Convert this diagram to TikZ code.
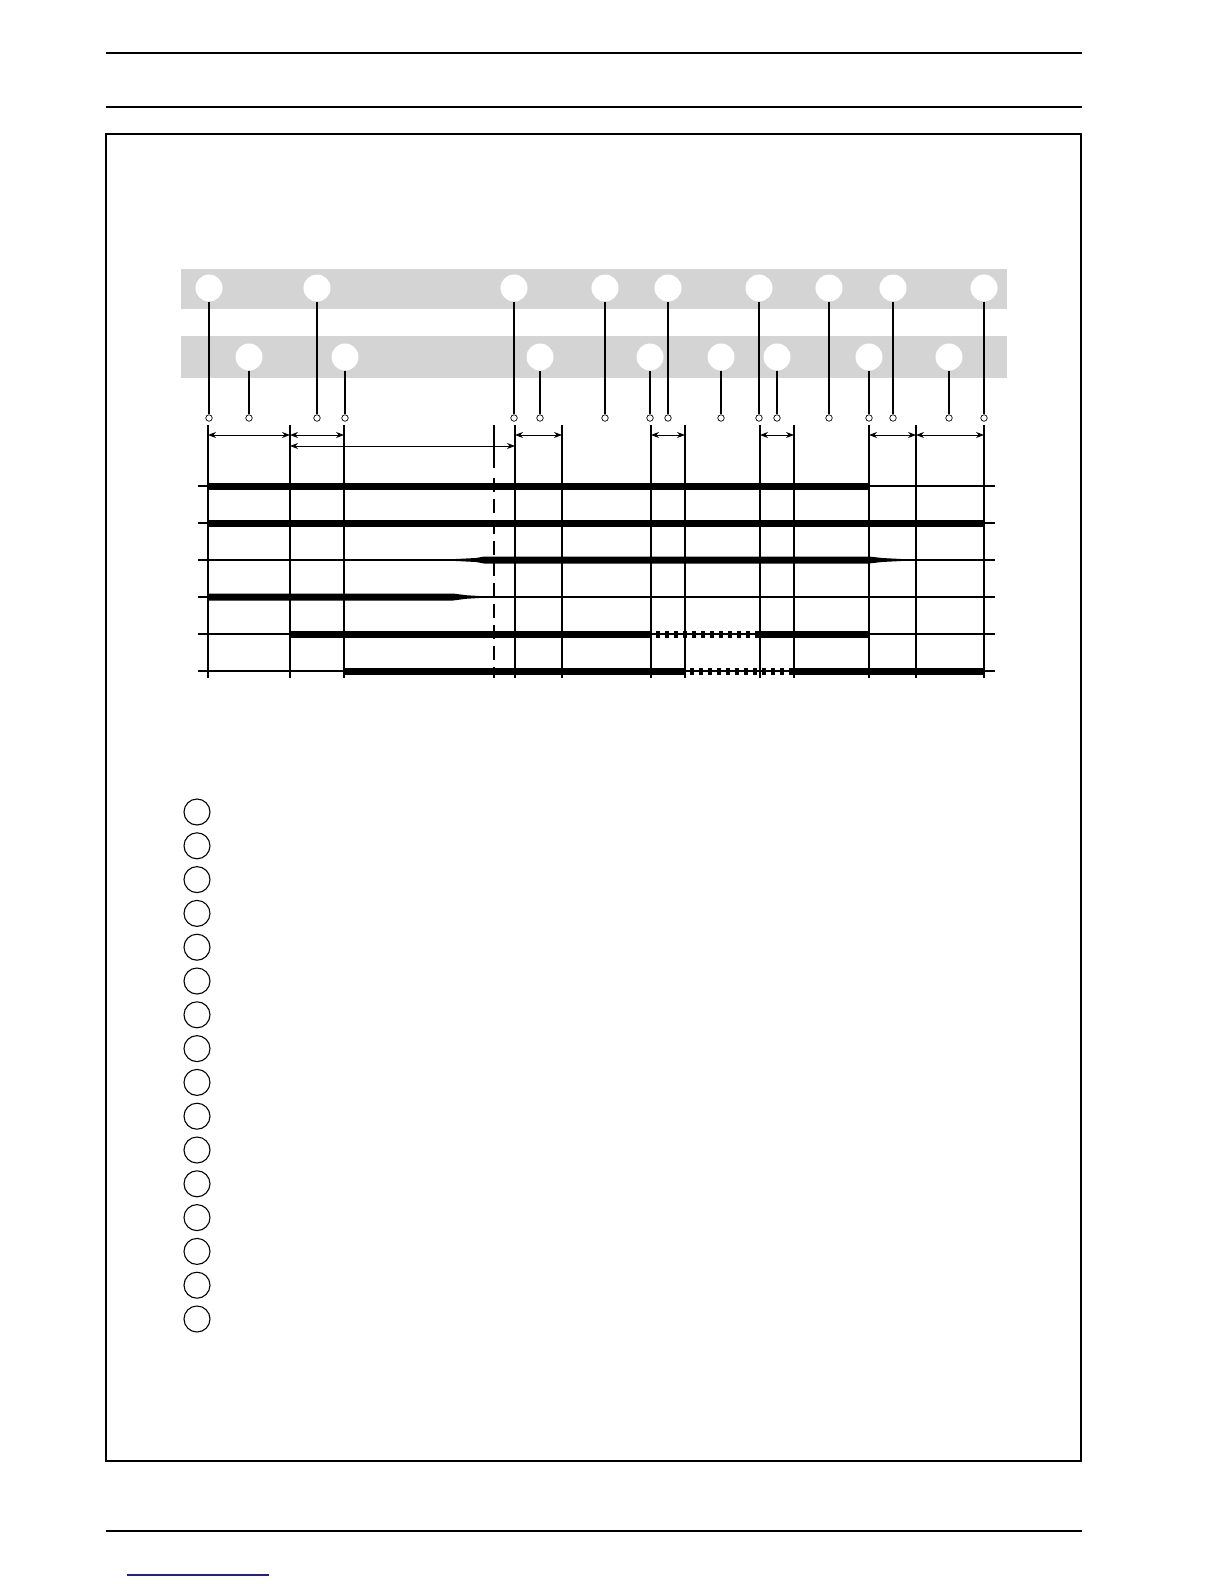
\documentclass[tikz,border=0pt]{standalone}
\usetikzlibrary{arrows.meta}
\definecolor{bandgray}{HTML}{D4D4D4}
\definecolor{linkblue}{HTML}{1F1F8F}
\begin{document}
\begin{tikzpicture}[x=1pt,y=-1pt,
  bigdot/.style={circle,fill=white,inner sep=0pt,minimum size=27pt},
  smalldot/.style={circle,draw=black,fill=white,inner sep=0pt,minimum size=6.5pt,line width=0.7pt},
  legdot/.style={circle,draw=black,inner sep=0pt,minimum size=26pt,line width=1.1pt},
  leader/.style={line width=1.1pt},
  tickline/.style={line width=1.1pt},
  sig/.style={line width=1.1pt},
  bar/.style={line width=7pt},
  dashbar/.style={line width=7pt,dash pattern=on 4.3pt off 4.7pt},
  dimarrow/.style={line width=0.9pt,{Stealth[length=8pt,width=6pt]}-{Stealth[length=8pt,width=6pt]}},
  rule/.style={line width=1.3pt},
  thickrule/.style={line width=2.4pt},
]
\useasboundingbox (0,0) rectangle (1224,1584);
\fill[white] (0,0) rectangle (1224,1584);

% page rules and frame
\draw[rule] (106,53) -- (1082,53);
\draw[thickrule] (106,107) -- (1082,107);
\draw[rule] (106,134) rectangle (1081,1461);
\draw[thickrule] (106,1531) -- (1082,1531);
\draw[linkblue,line width=1.2pt] (127,1575) -- (269,1575);

% grey bands
\fill[bandgray] (181,269) rectangle (1007,309);
\fill[bandgray] (181,336) rectangle (1007,378);

% upper band circles with leaders
\foreach \x [count=\i] in {209,317,514,605,668,759,829,893,984}{
  \node[bigdot] (t\i) at (\x,288) {};
  \node[smalldot] (ts\i) at (\x,418) {};
  \draw[leader] (t\i.south) -- (ts\i.north);
}
% lower band circles with leaders
\foreach \x [count=\i] in {249,345,540,650,721,777,869,949}{
  \node[bigdot] (b\i) at (\x,357) {};
  \node[smalldot] (bs\i) at (\x,418) {};
  \draw[leader] (b\i.south) -- (bs\i.north);
}

% vertical time lines
\foreach \x [count=\i] in {208,290,344,515,562,651,685,760,794,869,916,984}{
  \coordinate (vt\i) at (\x,425);
  \coordinate (vb\i) at (\x,678);
  \draw[tickline] (vt\i) -- (vb\i);
}
\coordinate (dt) at (494,425);
\coordinate (dm) at (494,468);
\coordinate (dn) at (494,478);
\coordinate (db) at (494,678);
\draw[tickline] (dt) -- (dm);
\draw[tickline,dash pattern=on 14pt off 7pt] (dn) -- (db);

% signal base lines
\foreach \y [count=\i] in {486,523,560,597,634,671}{
  \coordinate (sl\i) at (198,\y);
  \coordinate (sr\i) at (995,\y);
  \draw[sig] (sl\i) -- (sr\i);
}

% thick signal bars
\draw[bar] (208,486) -- (869,486);
\draw[bar] (208,523) -- (984,523);
\fill (441,560) -- (452,559.2) -- (476,558) -- (484,556.5) -- (869,556.5) -- (882,558) -- (905,559.2) -- (916,560)
      -- (905,560.8) -- (882,562) -- (869,563.5) -- (484,563.5) -- (476,562) -- (452,560.8) -- cycle;
\fill (208,593.5) -- (453,593.5) -- (466,595.2) -- (485,596.4) -- (494,597) -- (485,597.6) -- (466,598.8) -- (453,600.5)
      -- (208,600.5) -- cycle;
\draw[bar] (290,634) -- (651,634);
\draw[dashbar] (656,634) -- (760,634);
\draw[bar] (760,634) -- (869,634);
\draw[bar] (344,671) -- (685,671);
\draw[dashbar] (690,671) -- (794,671);
\draw[bar] (794,671) -- (984,671);

% dimension arrows
\foreach \a/\b [count=\i] in {208/290,290/344,515/562,651/685,760/794,869/916,916/984}{
  \coordinate (al\i) at (\a,435);
  \coordinate (ar\i) at (\b,435);
  \draw[dimarrow] (al\i) -- (ar\i);
}
\coordinate (lal) at (290,446);
\coordinate (lar) at (515,446);
\draw[dimarrow] (lal) -- (lar);

% legend circles
\foreach \i in {0,...,15}{
  \node[legdot] (l\i) at (197,{812+33.8*\i}) {};
}
\end{tikzpicture}
\end{document}
